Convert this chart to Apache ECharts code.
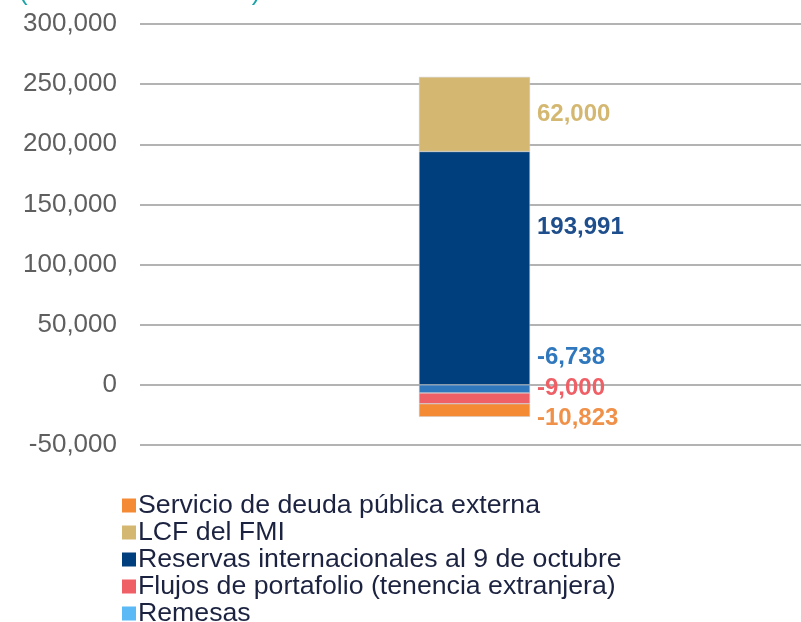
<!DOCTYPE html>
<html>
<head>
<meta charset="utf-8">
<script src="https://cdn.jsdelivr.net/npm/echarts@6/dist/echarts.min.js"></script>
</head>
<body style="margin:0;padding:0;background:#fff;">
<div id="chart" style="width:801px;height:622px;"></div>
<script>
// Data
const categories = ['Total'];
const seriesNames = [
  'Servicio de deuda pública externa',
  'LCF del FMI',
  'Reservas internacionales al 9 de octubre',
  'Flujos de portafolio (tenencia extranjera)',
  'Remesas'
];
const servicioDeuda = [-10823];
const lcfFmi = [62000];
const reservas = [193991];
const flujosPortafolio = [-9000];
const remesas = [-6738];
const yTicks = [-50000, 0, 50000, 100000, 150000, 200000, 250000, 300000];

const FONT = 'Liberation Sans, Arial, sans-serif';
const fmt = v => v.toLocaleString('en-US');

function labelOf(color, offsetY) {
  return {
    show: true,
    position: 'right',
    distance: 7,
    offset: [0, offsetY],
    color: color,
    fontSize: 24,
    fontWeight: 'bold',
    fontFamily: FONT,
    formatter: p => fmt(p.value)
  };
}

function barSeries(name, data, color, labelColor, offsetY) {
  return {
    name: name,
    type: 'bar',
    stack: 'total',
    data: data,
    barWidth: 111,
    itemStyle: { color: color, borderColor: '#c8c8c8', borderWidth: 0.5 },
    label: labelOf(labelColor, offsetY),
    emphasis: { disabled: true }
  };
}

const chart = echarts.init(document.getElementById('chart'));
chart.setOption({
  animation: false,
  title: {
    text: '(millones de dólares)',
    left: 14,
    top: -25,
    textStyle: { color: '#1aa3a8', fontSize: 26, fontWeight: 'normal', fontFamily: FONT }
  },
  legend: {
    orient: 'vertical',
    left: 117,
    top: 487,
    height: 200,
    itemWidth: 14,
    itemHeight: 14,
    itemGap: 0,
    icon: 'rect',
    itemStyle: { borderWidth: 0 },
    textStyle: { color: '#1c2340', fontSize: 26.7, fontFamily: FONT, padding: [0, 0, 0, -3] },
    data: [
      { name: seriesNames[0] },
      { name: seriesNames[1] },
      { name: seriesNames[2] },
      { name: seriesNames[3] },
      { name: seriesNames[4], itemStyle: { color: '#5bb9f6', borderWidth: 0 } }
    ]
  },
  grid: { left: 140, right: -8, top: 24, bottom: 177, outerBoundsMode: 'none' },
  xAxis: {
    type: 'category',
    data: categories,
    axisLine: { show: false },
    axisTick: { show: false },
    axisLabel: { show: false }
  },
  yAxis: {
    type: 'value',
    min: yTicks[0],
    max: yTicks[yTicks.length - 1],
    interval: 50000,
    axisLine: { show: false },
    axisTick: { show: false },
    axisLabel: {
      margin: 23,
      color: '#5f5f5f',
      fontSize: 26,
      fontFamily: FONT,
      formatter: v => fmt(v)
    },
    splitLine: { lineStyle: { color: '#b3b3b3', width: 2 } }
  },
  series: [
    barSeries(seriesNames[4], remesas, '#2f78bd', '#2f78bd', -32),
    barSeries(seriesNames[3], flujosPortafolio, '#ef5f66', '#ef5f66', -10),
    barSeries(seriesNames[0], servicioDeuda, '#f58a35', '#f0914a', 8),
    barSeries(seriesNames[2], reservas, '#003f7d', '#1f4e8c', -41),
    barSeries(seriesNames[1], lcfFmi, '#d4b872', '#d4b872', 0)
  ]
});
</script>
</body>
</html>
